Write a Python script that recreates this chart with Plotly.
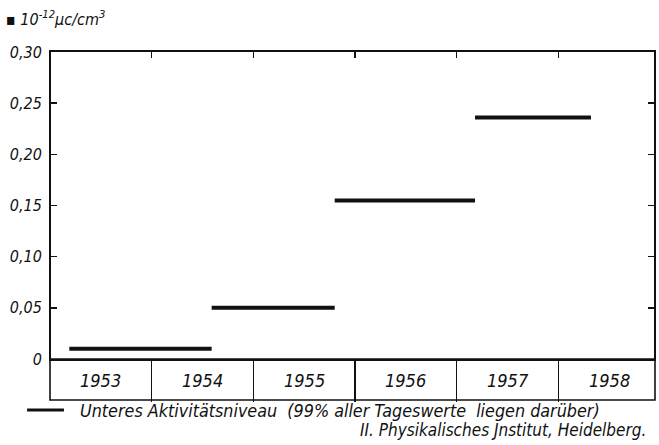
import plotly.graph_objects as go

# ---- data ----
years = [1953, 1954, 1955, 1956, 1957, 1958]
seg_start = [1953.19, 1954.59, 1955.80, 1957.18]
seg_end = [1954.59, 1955.80, 1957.18, 1958.32]
levels = [0.010, 0.050, 0.155, 0.236]
y_tickvals = [0, 0.05, 0.10, 0.15, 0.20, 0.25, 0.30]
y_ticktext = ["0", "0,05", "0,10", "0,15", "0,20", "0,25", "0,30"]
year_bounds = [1954, 1955, 1956, 1957, 1958]
unit_text = "▪ 10<sup>-12</sup>μc/cm<sup>3</sup>"
legend_text = "Unteres Aktivitätsniveau  (99% aller Tageswerte  liegen darüber)"
credit_text = "II. Physikalisches Jnstitut, Heidelberg."

FONT = "DejaVu Sans Condensed, Liberation Sans Narrow, DejaVu Sans, sans-serif"
INK = "#111111"

xs, ys = [], []
for a, b, v in zip(seg_start, seg_end, levels):
    xs += [a, b, None]
    ys += [v, v, None]

fig = go.Figure()
fig.add_trace(go.Scatter(
    x=xs, y=ys, mode="lines", name=legend_text,
    line=dict(color=INK, width=4), hoverinfo="skip", showlegend=False))
# empty trace to activate top axis
fig.add_trace(go.Scatter(x=[None], y=[None], xaxis="x2", yaxis="y",
                         showlegend=False, hoverinfo="skip"))

W, H = 659, 445
ml, mr, mt, mb = 51, 3, 52, 86
pw = W - ml - mr
ph = H - mt - mb
BOX_BOTTOM = 400
ZERO_PX = H - mb

def px_to_paper_x(px):
    return (px - ml) / pw

def px_to_paper_y(py):
    return (H - mb - py) / ph

xr = [1953.01, 1958.94]

annotations = []
for yv in years:
    annotations.append(dict(
        x=yv + 0.5, xref="x", y=px_to_paper_y(380), yref="paper",
        text=str(yv), showarrow=False, xanchor="center", yanchor="middle",
        font=dict(family=FONT, size=18, color=INK, style="italic")))
annotations.append(dict(
    x=px_to_paper_x(4), xref="paper", y=px_to_paper_y(19), yref="paper",
    text=unit_text, showarrow=False, xanchor="left", yanchor="middle",
    font=dict(family=FONT, size=16, color=INK, style="italic")))
annotations.append(dict(
    x=px_to_paper_x(78), xref="paper", y=px_to_paper_y(410), yref="paper",
    text=legend_text, showarrow=False, xanchor="left", yanchor="middle",
    font=dict(family=FONT, size=17.8, color=INK, style="italic")))
annotations.append(dict(
    x=px_to_paper_x(650), xref="paper", y=px_to_paper_y(430), yref="paper",
    text=credit_text, showarrow=False, xanchor="right", yanchor="middle",
    font=dict(family=FONT, size=17, color=INK, style="italic")))

shapes = [
    dict(type="rect", xref="paper", yref="paper",
         x0=px_to_paper_x(50), x1=px_to_paper_x(657),
         y0=0, y1=px_to_paper_y(BOX_BOTTOM),
         line=dict(color=INK, width=1.6), fillcolor="rgba(0,0,0,0)", layer="below"),
    # legend key
    dict(type="line", xref="paper", yref="paper",
         x0=px_to_paper_x(27), x1=px_to_paper_x(64),
         y0=px_to_paper_y(410), y1=px_to_paper_y(410),
         line=dict(color=INK, width=3)),
]

fig.update_layout(
    width=W, height=H,
    margin=dict(l=ml, r=mr, t=mt, b=mb, pad=0),
    paper_bgcolor="white", plot_bgcolor="white",
    font=dict(family=FONT, size=16, color=INK, style="italic"),
    showlegend=False,
    xaxis=dict(
        range=xr, tickvals=year_bounds, showticklabels=False,
        ticks="outside", ticklen=BOX_BOTTOM - ZERO_PX, tickwidth=1.4, tickcolor=INK,
        showline=True, linecolor=INK, linewidth=2, showgrid=False, zeroline=False),
    xaxis2=dict(
        overlaying="x", side="top", matches="x", range=xr,
        tickvals=year_bounds, showticklabels=False,
        ticks="inside", ticklen=6, tickwidth=1.4, tickcolor=INK,
        showline=True, linecolor=INK, linewidth=1.6, showgrid=False, zeroline=False),
    yaxis=dict(
        range=[0, 0.30], tickvals=y_tickvals, ticktext=y_ticktext,
        ticks="inside", ticklen=6, tickwidth=1.4, tickcolor=INK, mirror="ticks",
        showline=True, linecolor=INK, linewidth=2, showgrid=False, zeroline=False,
        tickfont=dict(family=FONT, size=16, color=INK, style="italic"),
        ticklabelstandoff=4),
    annotations=annotations,
    shapes=shapes,
)

fig.write_html("out.html", config={"displayModeBar": False, "staticPlot": True})

# remove the browser's default page margin so the figure sits at (0, 0)
with open("out.html", "r", encoding="utf-8") as f:
    html = f.read()
html = html.replace("<head>", "<head><style>html,body{margin:0;padding:0;overflow:hidden;}</style>", 1)
with open("out.html", "w", encoding="utf-8") as f:
    f.write(html)
